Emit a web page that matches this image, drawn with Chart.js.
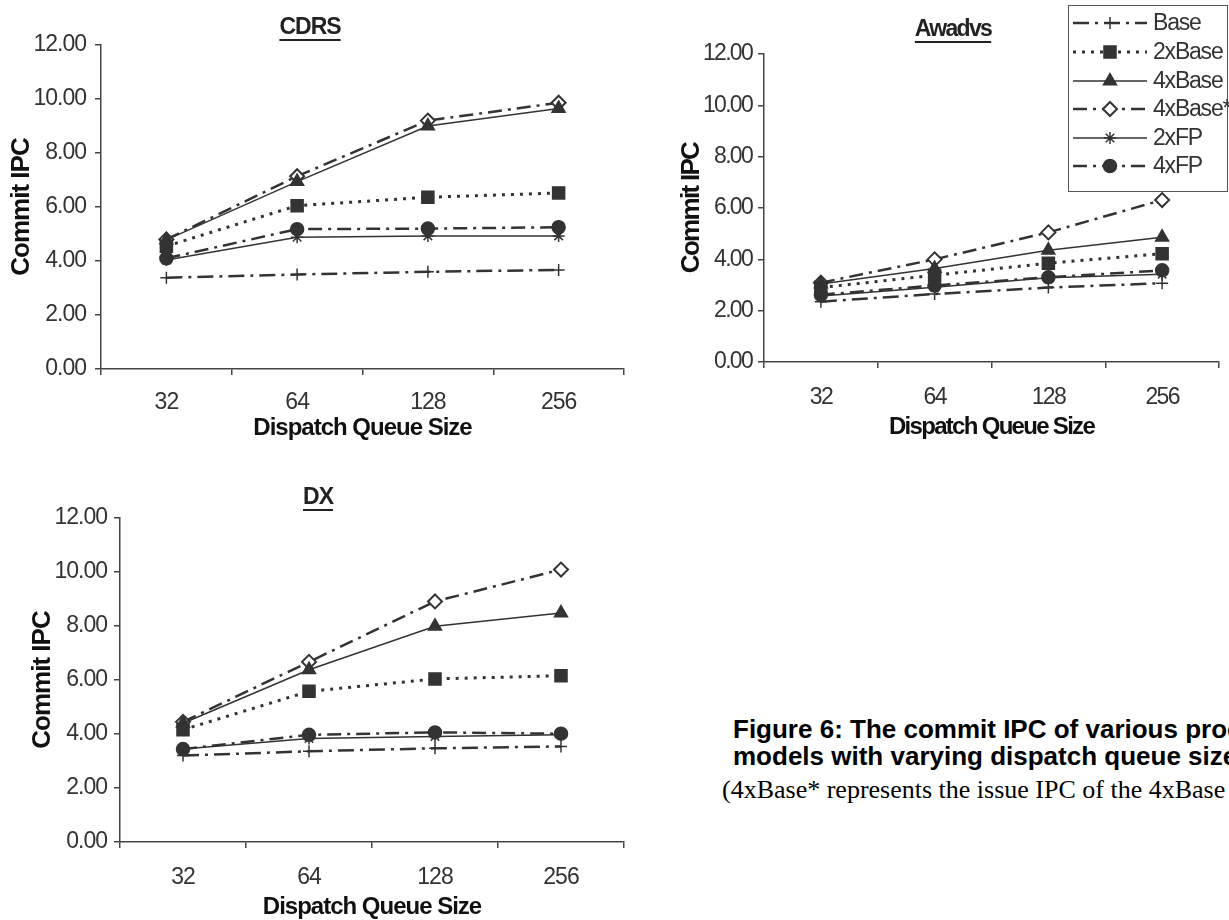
<!DOCTYPE html>
<html>
<head>
<meta charset="utf-8">
<script src="https://cdn.jsdelivr.net/npm/chart.js@4.4.0/dist/chart.umd.min.js"></script>
<style>
  html, body { margin: 0; padding: 0; background: #fff; width: 1229px; height: 920px; overflow: hidden; position: relative; }
  canvas { position: absolute; }
  .cap { position: absolute; white-space: nowrap; color: #000; }
  .cap-bold { font: bold 26px 'Liberation Sans', Arial, sans-serif; line-height: 27px; }
  .cap-serif { font: 26px 'Liberation Serif', 'Times New Roman', serif; }
</style>
</head>
<body>
<canvas id="cdrs" width="640" height="450" style="left:0;top:0"></canvas>
<canvas id="awadvs" width="589" height="450" style="left:640px;top:0"></canvas>
<canvas id="dx" width="640" height="460" style="left:0;top:460px"></canvas>
<div class="cap cap-bold" style="left:733px;top:716px">Figure 6: The commit IPC of various processor<br>models with varying dispatch queue sizes.</div>
<div class="cap cap-serif" style="left:722px;top:775px">(4xBase* represents the issue IPC of the 4xBase model)</div>

<script>
const categories = ['32', '64', '128', '256'];
const seriesNames = ['Base', '2xBase', '4xBase', '4xBase*', '2xFP', '4xFP'];
const yTicks = [0, 2, 4, 6, 8, 10, 12];

// CDRS
const cdrsBase = [3.38, 3.5, 3.6, 3.67];
const cdrs2xBase = [4.55, 6.05, 6.36, 6.52];
const cdrs4xBase = [4.78, 6.94, 9.0, 9.65];
const cdrs4xBaseStar = [4.8, 7.14, 9.2, 9.86];
const cdrs2xFP = [4.04, 4.88, 4.93, 4.93];
const cdrs4xFP = [4.1, 5.18, 5.2, 5.25];

// Awadvs
const awaBase = [2.35, 2.65, 2.9, 3.07];
const awa2xBase = [2.9, 3.38, 3.85, 4.22];
const awa4xBase = [3.04, 3.64, 4.35, 4.86];
const awa4xBaseStar = [3.09, 4.0, 5.05, 6.31];
const awa2xFP = [2.57, 2.91, 3.28, 3.42];
const awa4xFP = [2.62, 2.98, 3.3, 3.57];

// DX
const dxBase = [3.2, 3.36, 3.47, 3.54];
const dx2xBase = [4.16, 5.58, 6.04, 6.16];
const dx4xBase = [4.4, 6.38, 7.99, 8.48];
const dx4xBaseStar = [4.45, 6.67, 8.91, 10.09];
const dx2xFP = [3.44, 3.83, 3.91, 3.97];
const dx4xFP = [3.44, 3.97, 4.06, 4.01];

const ink = '#333';
const FONT = "'Liberation Sans', Arial, sans-serif";
Chart.defaults.font.family = FONT;
Chart.defaults.color = ink;

// look of each series, same order as seriesNames
const styles = [
  { dash: [16, 6, 3, 6], width: 2.5, point: 'cross', r: 6, fill: ink },
  { dash: [3, 6], width: 3, point: 'rect', r: 8.5, fill: ink },
  { dash: [], width: 1.5, point: 'triangle', r: 7.5, fill: ink },
  { dash: [14, 6, 3, 6], width: 2.5, point: 'rectRot', r: 7, fill: '#fff' },
  { dash: [], width: 1.5, point: 'star', r: 6, fill: ink },
  { dash: [14, 6, 3, 6], width: 2.5, point: 'circle', r: 6.5, fill: ink }
];

function buildDatasets(list) {
  return list.map((vals, i) => ({
    label: seriesNames[i],
    data: vals,
    borderColor: ink,
    borderWidth: styles[i].width,
    borderDash: styles[i].dash,
    pointStyle: styles[i].point,
    pointRadius: styles[i].r,
    pointBackgroundColor: styles[i].fill,
    pointBorderColor: ink,
    pointBorderWidth: styles[i].point === 'rectRot' ? 2 : 1.5,
    tension: 0,
    fill: false
  }));
}

// the source figure uses a narrow face, so text is squeezed a bit
const squeezePlugin = {
  id: 'squeeze',
  beforeLayout(chart, args, o) { chart.ctx.letterSpacing = o.px + 'px'; },
  beforeDraw(chart, args, o) { chart.ctx.letterSpacing = o.px + 'px'; }
};

const headPlugin = {
  id: 'head',
  afterDraw(chart, args, o) {
    const ctx = chart.ctx;
    ctx.save();
    ctx.letterSpacing = o.spacing + 'px';
    ctx.font = 'bold 23px ' + FONT;
    ctx.fillStyle = '#222';
    ctx.textAlign = 'center';
    ctx.textBaseline = 'middle';
    ctx.fillText(o.text, o.x, o.y);
    const w = ctx.measureText(o.text).width;
    ctx.strokeStyle = '#222';
    ctx.lineWidth = 2;
    ctx.beginPath();
    ctx.moveTo(o.x - w / 2, o.y + 12);
    ctx.lineTo(o.x + w / 2, o.y + 12);
    ctx.stroke();

    if (o.legend) {
      const L = o.legend;
      ctx.fillStyle = '#fff';
      ctx.fillRect(L.left, L.top, L.right - L.left, L.bottom - L.top);
      ctx.strokeStyle = '#555';
      ctx.lineWidth = 1;
      ctx.strokeRect(L.left + 0.5, L.top + 0.5, L.right - L.left - 1, L.bottom - L.top - 1);
      ctx.font = '23px ' + FONT;
      ctx.letterSpacing = '-1.2px';
      ctx.textAlign = 'left';
      seriesNames.forEach((name, i) => {
        const y = L.rows[i];
        const s = styles[i];
        ctx.strokeStyle = ink;
        ctx.lineWidth = s.width;
        ctx.setLineDash(s.dash);
        ctx.beginPath();
        ctx.moveTo(L.lineFrom, y);
        ctx.lineTo(L.lineTo, y);
        ctx.stroke();
        ctx.setLineDash([]);
        ctx.fillStyle = s.fill;
        ctx.strokeStyle = ink;
        ctx.lineWidth = s.point === 'rectRot' ? 2 : 1.5;
        Chart.helpers.drawPoint(ctx, { pointStyle: s.point, radius: s.r, borderWidth: ctx.lineWidth, rotation: 0 }, (L.lineFrom + L.lineTo) / 2, y);
        ctx.fillStyle = ink;
        ctx.fillText(name, L.textX, y + 1);
      });
    }
    ctx.restore();
  }
};

function makeChart(id, title, g, list, legend) {
  const el = document.getElementById(id);
  const W = el.width, H = el.height;
  return new Chart(el, {
    type: 'line',
    data: { labels: categories, datasets: buildDatasets(list) },
    options: {
      responsive: false,
      animation: false,
      devicePixelRatio: 1,
      layout: { padding: { top: g.top, right: W - g.right, bottom: 0, left: 0 } },
      plugins: {
        legend: { display: false },
        tooltip: { enabled: false },
        squeeze: { px: g.spacing },
        head: { text: title, x: g.titleX, y: g.titleY, legend: legend, spacing: g.spacing }
      },
      scales: {
        x: {
          offset: true,
          grid: { offset: true, drawOnChartArea: false, tickLength: 6, color: '#444', lineWidth: 1.5 },
          border: { color: '#444', width: 1.5 },
          ticks: { font: { size: 23 }, color: ink, padding: g.xLabelY - g.bottom - 6 - 13.8, maxRotation: 0 },
          title: { display: true, text: 'Dispatch Queue Size', color: '#111', font: { size: 24, weight: 'bold', lineHeight: 1 },
                   padding: { top: 0, bottom: H - g.xTitleY - 12 } },
          afterFit: s => { s.height = H - g.bottom; }
        },
        y: {
          min: 0, max: 12,
          afterBuildTicks: s => { s.ticks = yTicks.map(v => ({ value: v })); },
          grid: { drawOnChartArea: false, tickLength: 6, color: '#444', lineWidth: 1.5 },
          border: { color: '#444', width: 1.5 },
          ticks: { font: { size: 23 }, color: ink, padding: g.left - 6 - g.labelRight, callback: v => Number(v).toFixed(2) },
          title: { display: true, text: 'Commit IPC', color: '#111', font: { size: 26, weight: 'bold', lineHeight: 1 },
                   padding: { top: g.yTitleX - 13, bottom: 0 } },
          afterFit: s => { s.width = g.left; }
        }
      }
    },
    plugins: [squeezePlugin, headPlugin]
  });
}

makeChart('cdrs', 'CDRS',
  { left: 101, right: 624, top: 45, bottom: 369, labelRight: 86, titleX: 310, titleY: 28, yTitleX: 22, xLabelY: 403, xTitleY: 428, spacing: -1 },
  [cdrsBase, cdrs2xBase, cdrs4xBase, cdrs4xBaseStar, cdrs2xFP, cdrs4xFP]);

makeChart('awadvs', 'Awadvs',
  { left: 124, right: 584, top: 54, bottom: 362, labelRight: 112, titleX: 313, titleY: 30, yTitleX: 52, xLabelY: 398, xTitleY: 427, spacing: -1.7 },
  [awaBase, awa2xBase, awa4xBase, awa4xBaseStar, awa2xFP, awa4xFP],
  { left: 428, top: 5, right: 588, bottom: 192, rows: [23, 52, 81, 109, 138, 166], lineFrom: 433, lineTo: 507, textX: 513 });

makeChart('dx', 'DX',
  { left: 120, right: 624, top: 58, bottom: 382, labelRight: 107, titleX: 318, titleY: 38, yTitleX: 43, xLabelY: 418, xTitleY: 447, spacing: -1 },
  [dxBase, dx2xBase, dx4xBase, dx4xBaseStar, dx2xFP, dx4xFP]);
</script>
</body>
</html>
